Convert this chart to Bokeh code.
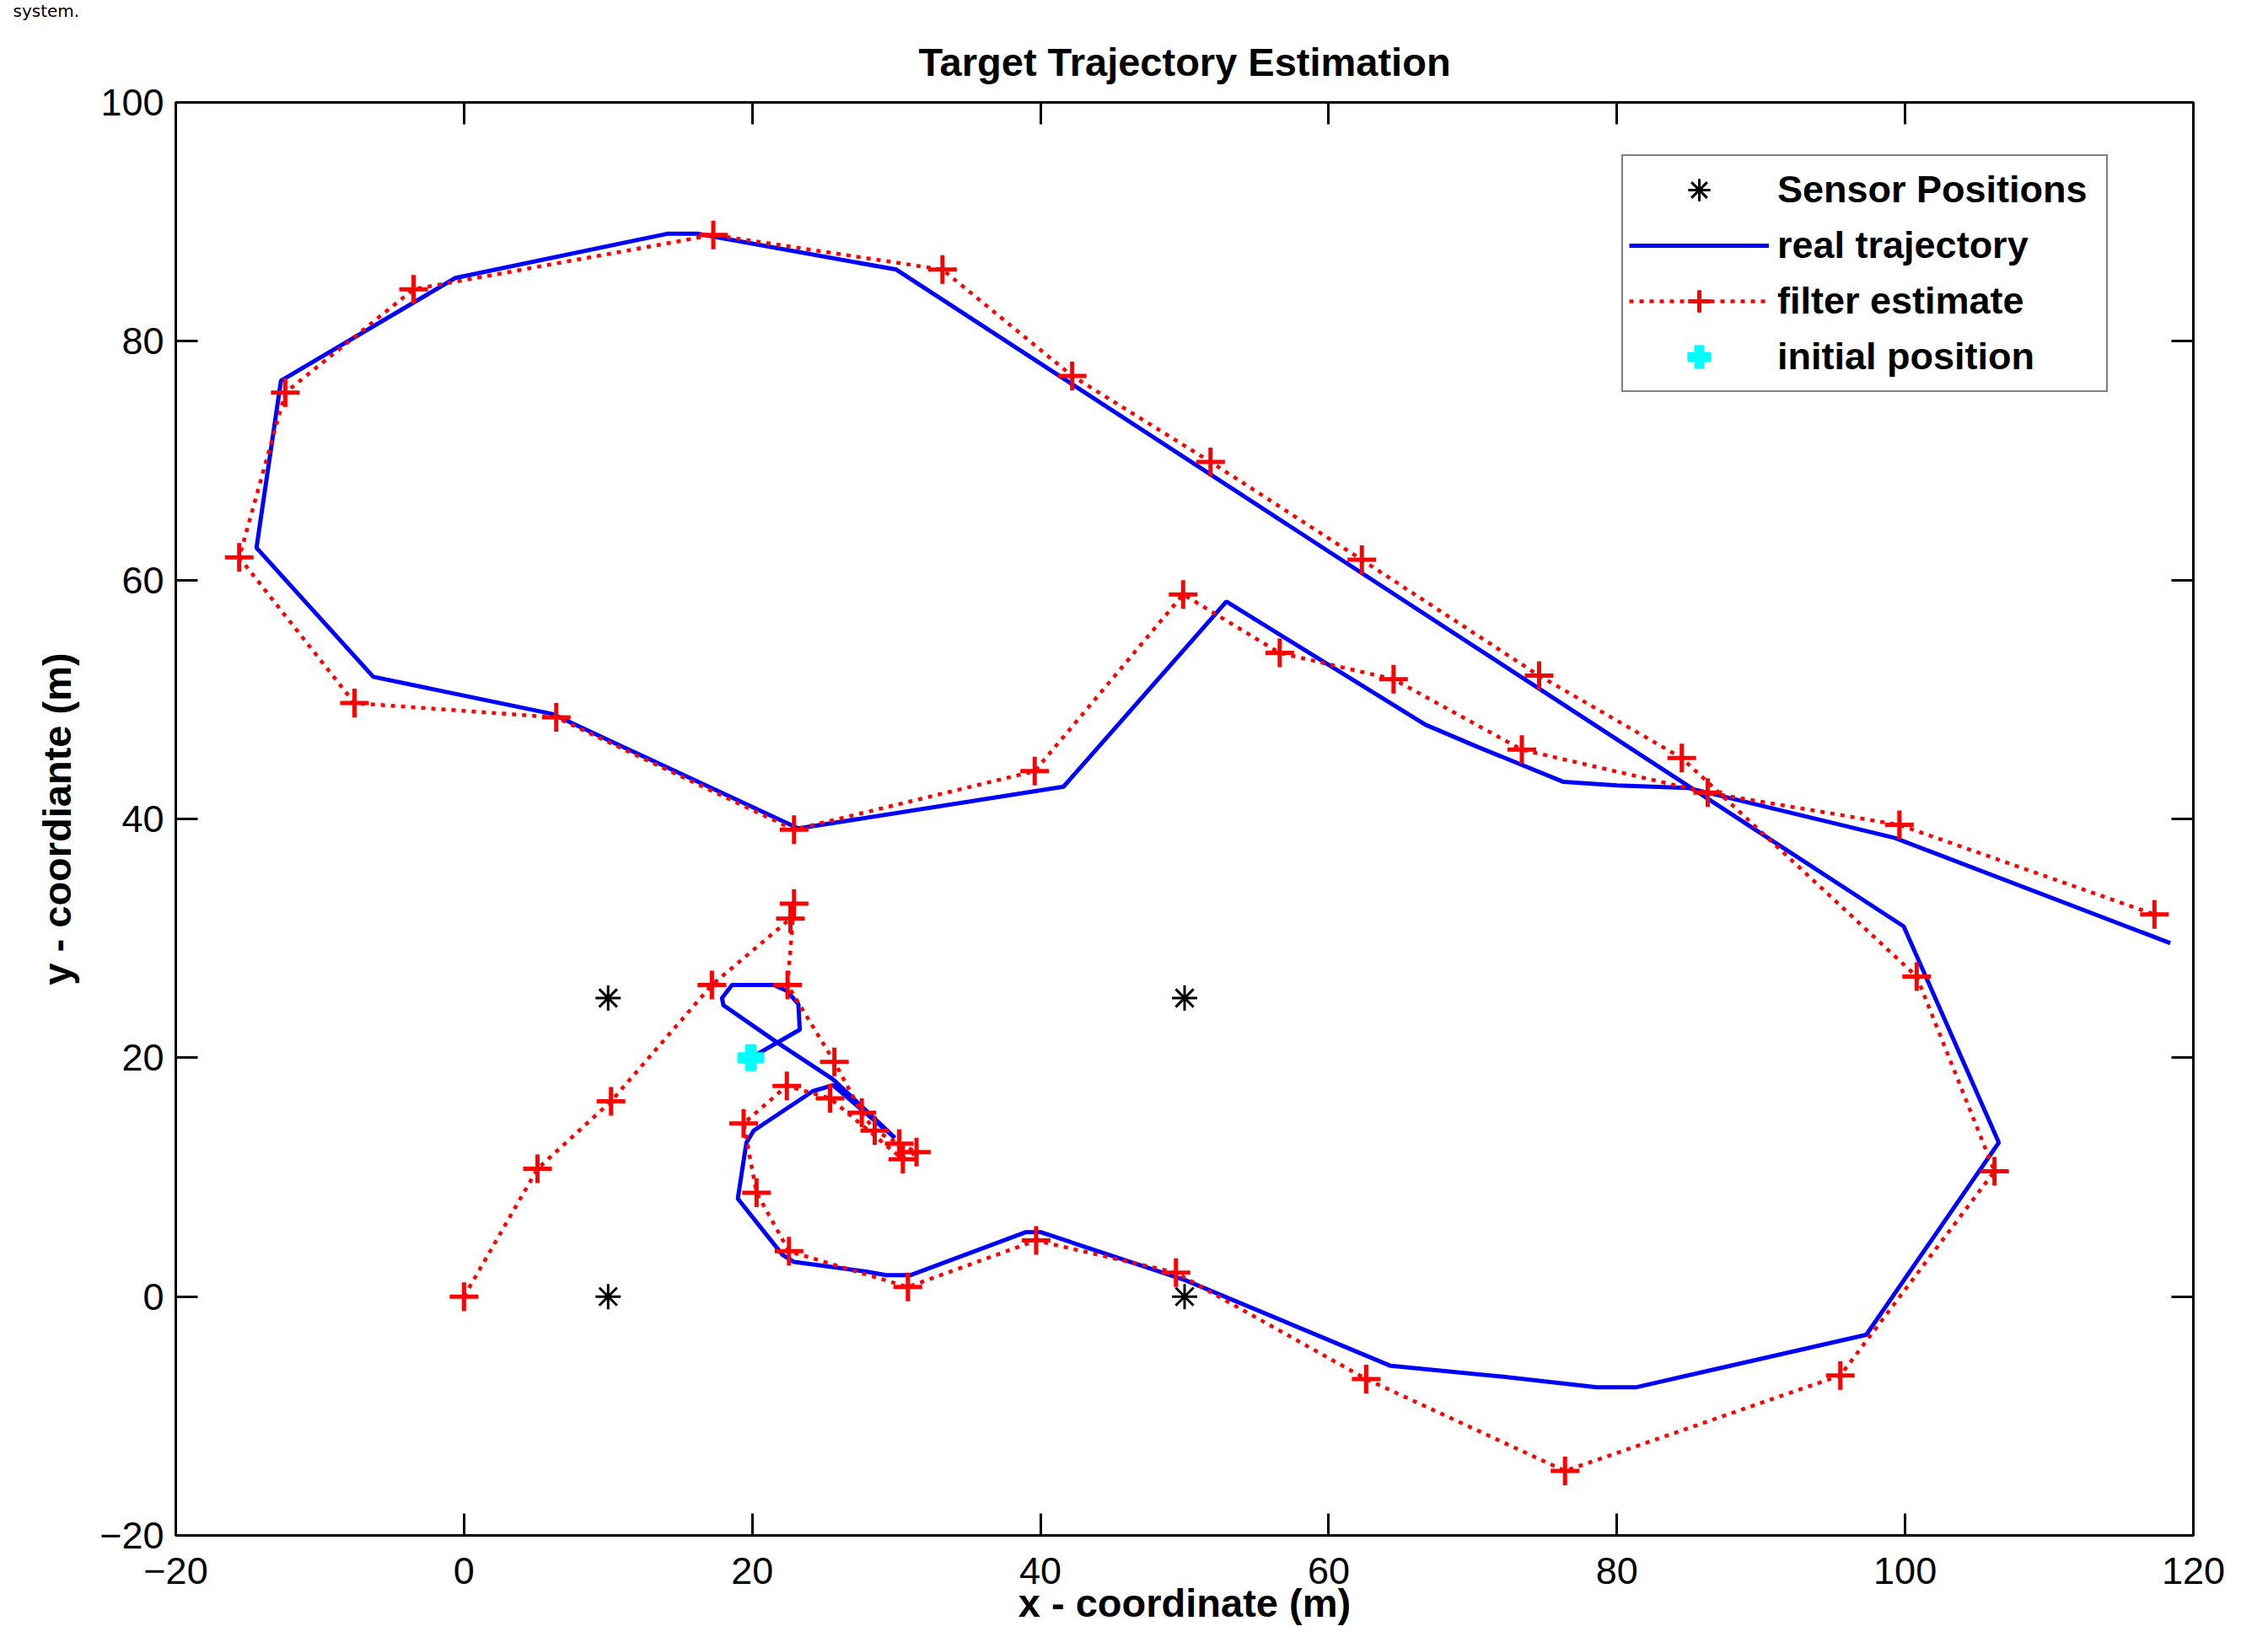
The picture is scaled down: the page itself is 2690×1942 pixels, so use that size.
from bokeh.plotting import figure
from bokeh.models import (Range1d, FixedTicker, LinearAxis, Legend, LegendItem,
                          Title, CustomJSTickFormatter)
from bokeh.embed import file_html
from bokeh.resources import INLINE

# ---------------- data ----------------
x_ticks = [-20, 0, 20, 40, 60, 80, 100, 120]
y_ticks = [-20, 0, 20, 40, 60, 80, 100]

sensor_x = [10, 10, 50, 50]
sensor_y = [25, 0, 25, 0]

init_x = [19.9]
init_y = [20.0]

real_x = [19.9, 23.3, 23.2, 22.4, 21.5, 18.6, 17.9, 18.0, 21.7, 25.6, 29.9,
          25.6, 24.2, 20.1, 19.6, 19.3, 19.0, 22.1, 22.9, 27.9, 29.3, 31.0,
          39.0, 40.0, 50.0, 64.3, 72.0, 78.6, 81.3, 97.3, 106.5, 99.9,
          30.0, 16.2, 14.1, -0.6, -12.7, -14.4, -6.3, 6.1, 23.2,
          41.6, 52.9, 66.7, 70.2, 76.3, 80.0, 84.9, 99.3, 118.4]
real_y = [20.0, 22.35, 24.5, 25.6, 26.1, 26.1, 25.0, 24.4, 21.3, 18.2, 13.3,
          17.7, 17.2, 13.9, 12.9, 10.6, 8.2, 3.5, 2.9, 2.1, 1.8, 1.8,
          5.4, 5.4, 1.4, -5.8, -6.7, -7.6, -7.6, -3.2, 12.9, 31.0,
          86.0, 89.0, 89.0, 85.3, 76.7, 62.7, 51.9, 48.8, 39.2,
          42.7, 58.2, 47.9, 46.1, 43.1, 42.8, 42.6, 38.4, 29.6]

est_x = [0.0, 5.1, 10.2, 17.2, 22.65, 22.9, 22.45, 25.7, 27.6, 28.5, 30.2,
         31.4, 30.45, 25.4, 22.4, 19.4, 20.3, 22.55, 30.8, 39.7, 49.4, 62.6,
         76.4, 95.5, 106.2, 100.8, 84.5, 74.6, 62.3, 51.8, 42.2, 33.2, 17.3,
         -3.5, -12.4, -15.6, -7.6, 6.4, 22.9, 39.6, 49.9, 56.6, 64.5, 73.4,
         86.3, 99.6, 117.3]
est_y = [0.0, 10.7, 16.35, 26.1, 31.65, 32.9, 26.1, 19.65, 15.4, 13.9, 12.8,
         12.1, 11.5, 16.6, 17.65, 14.5, 8.7, 3.8, 0.8, 4.7, 2.0, -6.9,
         -14.6, -6.6, 10.5, 26.8, 45.1, 52.0, 61.7, 69.9, 77.1, 86.0, 88.9,
         84.35, 75.7, 61.9, 49.7, 48.5, 39.1, 44.0, 58.8, 53.9, 51.7, 45.8,
         42.2, 39.5, 32.0]

FONT = "Liberation Sans"

# ---------------- figure ----------------
p = figure(width=2690, height=1942, output_backend="svg", toolbar_location=None,
           title=None,
           x_range=Range1d(-20, 120), y_range=Range1d(-20, 100),
           min_border_left=208, min_border_right=89,
           min_border_top=120, min_border_bottom=121)
p.background_fill_color = "white"
p.border_fill_color = "white"
p.outline_line_color = "black"
p.outline_line_width = 3
p.xgrid.visible = False
p.ygrid.visible = False


def style_axis(ax, ticks):
    ax.ticker = FixedTicker(ticks=ticks)
    ax.major_tick_in = 26
    ax.major_tick_out = 0
    ax.minor_tick_in = 0
    ax.minor_tick_out = 0
    ax.major_tick_line_width = 3
    ax.major_tick_line_color = "black"
    ax.axis_line_width = 3
    ax.axis_line_color = "black"
    ax.major_label_text_font = FONT
    ax.major_label_text_font_size = "45px"
    ax.major_label_text_color = "black"
    ax.axis_label_text_font = FONT
    ax.axis_label_text_font_size = "47px"
    ax.axis_label_text_font_style = "bold"
    ax.axis_label_text_color = "black"


xa = p.xaxis[0]
style_axis(xa, x_ticks)
xa.axis_label = "x - coordinate (m)"
xa.major_label_standoff = 26
xa.axis_label_standoff = -7

ya = p.yaxis[0]
style_axis(ya, y_ticks)
ya.axis_label = "y - coordiante (m)"
ya.major_label_standoff = 14
ya.axis_label_standoff = 21

# box ticks on top and right, no labels
top_ax = LinearAxis(formatter=CustomJSTickFormatter(code="return ''"))
style_axis(top_ax, x_ticks)
top_ax.major_label_text_font_size = "0px"
top_ax.major_label_standoff = 0
p.add_layout(top_ax, "above")

right_ax = LinearAxis(formatter=CustomJSTickFormatter(code="return ''"))
style_axis(right_ax, y_ticks)
right_ax.major_label_text_font_size = "0px"
right_ax.major_label_standoff = 0
p.add_layout(right_ax, "right")

# titles (first added sits closest to the frame)
p.add_layout(Title(text="Target Trajectory Estimation", align="center",
                   vertical_align="top",
                   text_font=FONT, text_font_size="47px",
                   text_font_style="bold", text_color="black",
                   standoff=40), "above")
# fragment of the surrounding document text
p.add_layout(Title(text="system.", align="left", offset=-193,
                   vertical_align="top",
                   text_font="DejaVu Sans", text_font_size="20px",
                   text_font_style="normal", text_color="black",
                   standoff=0), "above")

# ---------------- glyphs ----------------
r_sens = p.scatter(sensor_x, sensor_y, marker="asterisk", size=30,
                   line_color="black", line_width=3)
r_real = p.line(real_x, real_y, line_color="#0000FF", line_width=5)
r_est_line = p.line(est_x, est_y, line_color="#FF0000", line_width=4.5,
                    line_dash="5 7")
r_est_pts = p.scatter(est_x, est_y, marker="cross", size=34,
                      line_color="#FF0000", line_width=5)
r_init = p.scatter(init_x, init_y, marker="plus", size=30,
                   fill_color="#00FFFF", line_color="#00FFFF", line_width=2)

legend = Legend(items=[
    LegendItem(label="Sensor Positions", renderers=[r_sens]),
    LegendItem(label="real trajectory", renderers=[r_real]),
    LegendItem(label="filter estimate", renderers=[r_est_line, r_est_pts]),
    LegendItem(label="initial position", renderers=[r_init]),
], location=(1715, 1356))
legend.border_line_color = "black"
legend.border_line_width = 2
legend.background_fill_color = "white"
legend.background_fill_alpha = 1.0
legend.label_text_font = FONT
legend.label_text_font_size = "45px"
legend.label_text_font_style = "bold"
legend.label_text_color = "black"
legend.glyph_width = 166
legend.glyph_height = 66
legend.label_height = 66
legend.label_width = 383
legend.label_standoff = 10
legend.padding = 7
legend.spacing = 0
legend.margin = 0
p.add_layout(legend)

open("out.html", "w").write(file_html(p, INLINE))
